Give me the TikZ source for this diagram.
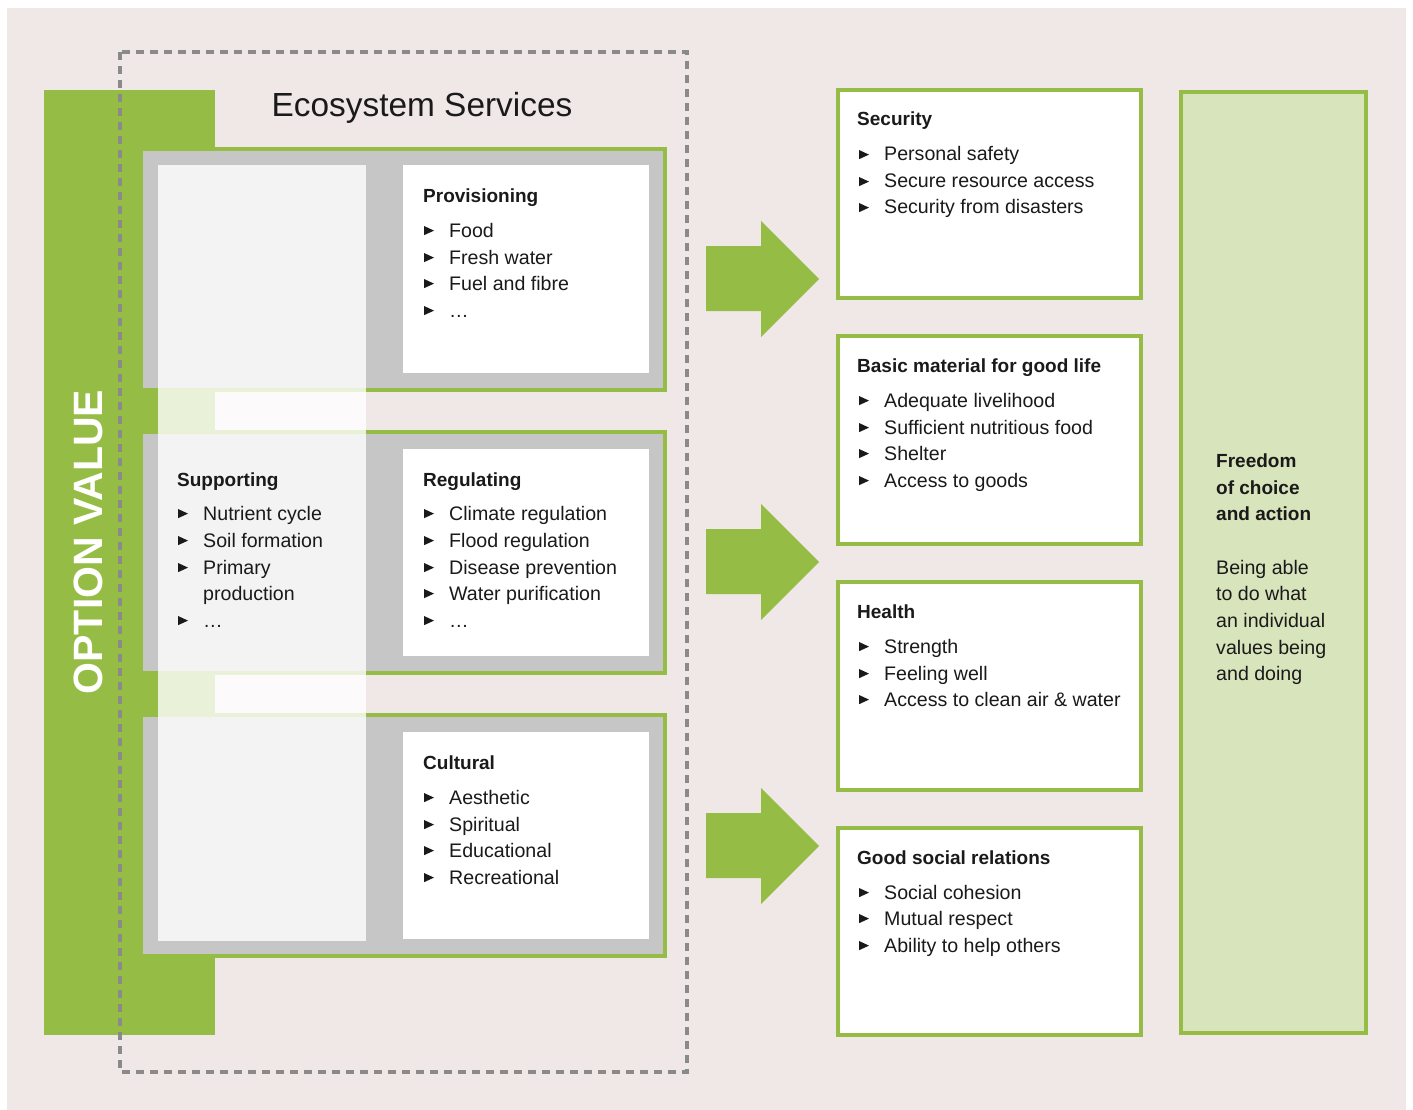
\documentclass[tikz,border=0pt]{standalone}
\usepackage{fontspec}
\setmainfont{Liberation Sans}
\definecolor{bgpink}{HTML}{F0E8E7}
\definecolor{ogreen}{HTML}{95BD45}
\definecolor{pgray}{HTML}{C5C6C5}
\definecolor{dgray}{HTML}{8A8A8A}
\definecolor{lgreen}{HTML}{D8E4BB}
\definecolor{txt}{HTML}{1A1A1A}
\newcommand\bitem[4]{%
  \fill[txt] (#2,#3-1.8) -- (#2,#3-11) -- (#2+10,#3-6.4) -- cycle;
  \node[itm] (#1) at (#2+25,#3) {#4};}
\begin{document}
\begin{tikzpicture}[x=1pt,y=-1pt,
  gbox/.style={draw=ogreen, line width=4pt, fill=white},
  panel/.style={draw=ogreen, line width=4pt, fill=pgray},
  head/.style={anchor=base west, inner sep=0pt, font=\fontsize{19}{21}\selectfont\bfseries, text=txt},
  itm/.style={anchor=base west, inner sep=0pt, font=\fontsize{19.6}{22}\selectfont, text=txt},
  bigarrow/.style={fill=ogreen}]
\useasboundingbox (0,0) rectangle (1413,1110);
\fill[white] (0,0) rectangle (1413,1110);
\fill[bgpink] (7,8) rectangle (1406,1110);
% option value band
\fill[ogreen] (44,90) rectangle (215,1035);
\node[rotate=90, text=white, font=\fontsize{41}{44}\selectfont\bfseries, inner sep=0pt] (ov) at (88,542) {OPTION VALUE};
% dashed frame
\draw[dgray, line width=3.5pt, dash pattern=on 8pt off 6pt] (120,52) rectangle (687,1072);
\node[font=\fontsize{33.4}{36}\selectfont, text=txt, anchor=base, inner sep=0pt] (es) at (422,117) {Ecosystem Services};
% panels
\foreach \t in {0,283,566}{
  \draw[panel] (141,149+\t) rectangle (665,390+\t);
  \fill[pgray] (143,151+\t) rectangle (663,388+\t);
  \fill[white] (403,165.5+\t) rectangle (649,373+\t);
}
% supporting column overlay
\fill[white, opacity=0.8] (158,165) rectangle (366,941);
% Provisioning
\node[head] (prov) at (423,203) {Provisioning};
\bitem{pv1}{424}{237}{Food}
\bitem{pv2}{424}{264}{Fresh water}
\bitem{pv3}{424}{290}{Fuel and fibre}
\bitem{pv4}{424}{317}{…}
% Regulating
\node[head] (reg) at (423,486) {Regulating};
\bitem{rg1}{424}{520}{Climate regulation}
\bitem{rg2}{424}{547}{Flood regulation}
\bitem{rg3}{424}{574}{Disease prevention}
\bitem{rg4}{424}{600}{Water purification}
\bitem{rg5}{424}{627}{…}
% Supporting
\node[head] (sup) at (177,486) {Supporting};
\bitem{sp1}{178}{520}{Nutrient cycle}
\bitem{sp2}{178}{547}{Soil formation}
\bitem{sp3}{178}{574}{Primary}
\node[itm] (sp3b) at (203,600) {production};
\bitem{sp4}{178}{627}{…}
% Cultural
\node[head] (cul) at (423,769) {Cultural};
\bitem{cu1}{424}{804}{Aesthetic}
\bitem{cu2}{424}{831}{Spiritual}
\bitem{cu3}{424}{857}{Educational}
\bitem{cu4}{424}{884}{Recreational}
% arrows
\fill[bigarrow] (706,246) -- (761,246) -- (761,221) -- (819,279) -- (761,337) -- (761,311) -- (706,311) -- cycle;
\fill[bigarrow] (706,529) -- (761,529) -- (761,504) -- (819,562) -- (761,620) -- (761,594) -- (706,594) -- cycle;
\fill[bigarrow] (706,813) -- (761,813) -- (761,788) -- (819,846) -- (761,904) -- (761,878) -- (706,878) -- cycle;
% right boxes
\draw[gbox] (838,90) rectangle (1141,298);
\draw[gbox] (838,336) rectangle (1141,544);
\draw[gbox] (838,582) rectangle (1141,790);
\draw[gbox] (838,828) rectangle (1141,1035);
\node[head] (secu) at (857,126) {Security};
\bitem{se1}{859}{161}{Personal safety}
\bitem{se2}{859}{188}{Secure resource access}
\bitem{se3}{859}{214}{Security from disasters}
\node[head] (basic) at (857,372) {Basic material for good life};
\bitem{ba1}{859}{407}{Adequate livelihood}
\bitem{ba2}{859}{434}{Sufficient nutritious food}
\bitem{ba3}{859}{460}{Shelter}
\bitem{ba4}{859}{487}{Access to goods}
\node[head] (health) at (857,618) {Health};
\bitem{he1}{859}{653}{Strength}
\bitem{he2}{859}{680}{Feeling well}
\bitem{he3}{859}{706}{Access to clean air \& water}
\node[head] (social) at (857,864) {Good social relations};
\bitem{so1}{859}{899}{Social cohesion}
\bitem{so2}{859}{925}{Mutual respect}
\bitem{so3}{859}{952}{Ability to help others}
% freedom box
\draw[draw=ogreen, line width=4pt, fill=lgreen] (1181,92) rectangle (1366,1033);
\node[head] (fr1) at (1216,467) {Freedom};
\node[head] (fr2) at (1216,494) {of choice};
\node[head] (fr3) at (1216,520) {and action};
\node[itm] (fr4) at (1216,574) {Being able};
\node[itm] (fr5) at (1216,600) {to do what};
\node[itm] (fr6) at (1216,627) {an individual};
\node[itm] (fr7) at (1216,654) {values being};
\node[itm] (fr8) at (1216,680) {and doing};
\end{tikzpicture}
\end{document}
